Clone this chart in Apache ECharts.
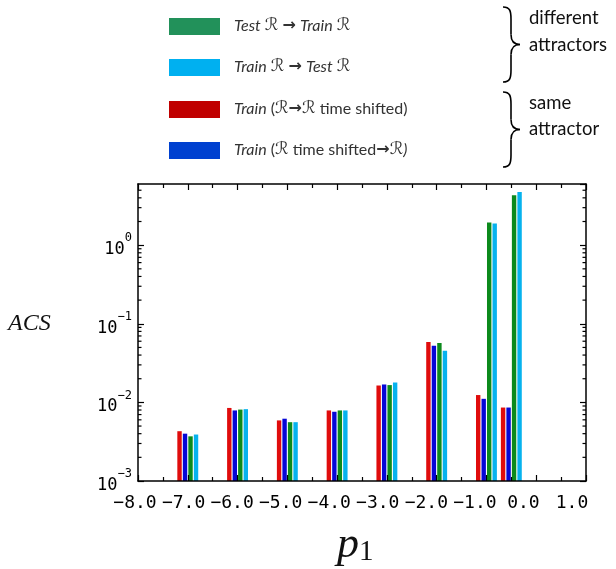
<!DOCTYPE html>
<html>
<head>
<meta charset="utf-8">
<script src="https://cdn.jsdelivr.net/npm/echarts@6/dist/echarts.min.js"></script>
<style>
html,body{margin:0;padding:0;background:#fff;}
#chart{width:616px;height:569px;}
</style>
</head>
<body>
<div id="chart"></div>
<script>
// ---- data ----
const xPositions = [-7, -6, -5, -4, -3, -2, -1, -0.5];
const trainShiftA = [0.0043, 0.0085, 0.0059, 0.0079, 0.0164, 0.0586, 0.0124, 0.0086]; // red
const trainShiftB = [0.0040, 0.0079, 0.0062, 0.0076, 0.0169, 0.0526, 0.0111, 0.0086]; // blue
const testToTrain = [0.0037, 0.0081, 0.0056, 0.0079, 0.0166, 0.0569, 1.94, 4.3];     // green
const trainToTest = [0.0039, 0.0082, 0.0056, 0.0079, 0.0179, 0.0455, 1.88, 4.73];    // cyan
const xMin = -8, xMax = 1;
const yMin = 0.001, yMax = 6;
const yMinorTicks = [2e-3,3e-3,4e-3,5e-3,6e-3,7e-3,8e-3,9e-3,
                     2e-2,3e-2,4e-2,5e-2,6e-2,7e-2,8e-2,9e-2,
                     2e-1,3e-1,4e-1,5e-1,6e-1,7e-1,8e-1,9e-1,
                     2,3,4,5];
const legendLabels = [
  '{i|Test} {r|ℛ} {a|→} {i|Train} {r|ℛ}',
  '{i|Train} {r|ℛ} {a|→} {i|Test} {r|ℛ}',
  '{i|Train} ({r|ℛ}{a|→}{r|ℛ} time shifted)',
  '{i|Train} ({r|ℛ} time shifted{a|→}{r|ℛ}{i|)}'
];
const legendColors = ['#22915a', '#00b0f0', '#c00000', '#0041d0'];

// ---- chart ----
const chart = echarts.init(document.getElementById('chart'), null, {renderer: 'canvas'});
const barW = 4.4;
function barSeries(name, vals, color, offset) {
  return {
    type: 'custom', name: name, xAxisIndex: 0, yAxisIndex: 0, z: 1,
    data: xPositions.map((x, i) => [x, vals[i]]),
    encode: {x: 0, y: 1},
    renderItem: function (params, api) {
      const top = api.coord([api.value(0), api.value(1)]);
      const base = api.coord([api.value(0), yMin]);
      return {
        type: 'rect',
        shape: {x: top[0] + offset - barW / 2, y: top[1], width: barW, height: base[1] - top[1]},
        style: {fill: color}
      };
    }
  };
}
const tickSeries = {
  type: 'custom', xAxisIndex: 0, yAxisIndex: 0, z: 5, silent: true,
  data: yMinorTicks.map(v => [xMin, v]),
  encode: {x: 0, y: 1},
  renderItem: function (params, api) {
    const cs = params.coordSys;
    const y = api.coord([xMin, api.value(1)])[1];
    const st = {stroke: '#000', lineWidth: 1.2};
    return {type: 'group', children: [
      {type: 'line', shape: {x1: cs.x, y1: y, x2: cs.x + 3.5, y2: y}, style: st},
      {type: 'line', shape: {x1: cs.x + cs.width, y1: y, x2: cs.x + cs.width - 3.5, y2: y}, style: st}
    ]};
  }
};
const fmtX = v => (v < 0 ? '\u2212' : '') + Math.abs(v).toFixed(1);
const fmtY = v => { const e = Math.round(Math.log10(v)); return '{b|10}{s|' + (e < 0 ? '\u2212' + (-e) : e) + '}'; };
const axLine = {show: true, onZero: false, lineStyle: {color: '#000', width: 1.5}};
const tick = {show: true, inside: true, length: 6, lineStyle: {color: '#000', width: 1.2}};

const option = {
  animation: false,
  backgroundColor: '#fff',
  grid: [
    {left: 138, right: 30, top: 184, bottom: 88, show: false},
    {left: 135, right: 44, top: 184, bottom: 88, show: false}
  ],
  xAxis: [
    {type: 'value', gridIndex: 0, min: xMin, max: xMax, interval: 1, position: 'bottom', z: 10,
     axisLine: axLine, axisTick: tick,
     minorTick: {show: true, splitNumber: 2, length: 4, lineStyle: {color: '#000', width: 1.2}},
     axisLabel: {show: false}, splitLine: {show: false}},
    {type: 'value', gridIndex: 0, min: xMin, max: xMax, interval: 1, position: 'top', z: 10,
     axisLine: axLine, axisTick: tick,
     minorTick: {show: true, splitNumber: 2, length: 4, lineStyle: {color: '#000', width: 1.2}},
     axisLabel: {show: false}, splitLine: {show: false}},
    {type: 'value', gridIndex: 1, min: xMin, max: xMax, interval: 1, position: 'bottom',
     axisLine: {show: false, onZero: false}, axisTick: {show: false}, splitLine: {show: false},
     axisLabel: {show: true, formatter: fmtX, margin: 13, color: '#000', fontSize: 18, fontFamily: 'DejaVu Sans Mono'}}
  ],
  yAxis: [
    {type: 'log', logBase: 10, gridIndex: 0, min: yMin, max: yMax, position: 'left', z: 10,
     axisLine: axLine, axisTick: tick, splitLine: {show: false},
     axisLabel: {show: true, showMaxLabel: false, formatter: fmtY, margin: 6, color: '#000',
       rich: {
         b: {fontSize: 17, fontFamily: 'DejaVu Sans Mono', color: '#000', lineHeight: 26, verticalAlign: 'bottom'},
         s: {fontSize: 12, fontFamily: 'DejaVu Sans Mono', color: '#000', lineHeight: 26, verticalAlign: 'top'}
       }}},
    {type: 'log', logBase: 10, gridIndex: 0, min: yMin, max: yMax, position: 'right', z: 10,
     axisLine: axLine, axisTick: tick, splitLine: {show: false}, axisLabel: {show: false}},
    {type: 'value', gridIndex: 1, show: false}
  ],
  series: [
    barSeries('Train (ℛ→ℛ time shifted)', trainShiftA, '#e00c0c', -8.25),
    barSeries('Train (ℛ time shifted→ℛ)', trainShiftB, '#0606d6', -2.75),
    barSeries('Test ℛ → Train ℛ', testToTrain, '#0c8a1c', 2.75),
    barSeries('Train ℛ → Test ℛ', trainToTest, '#06b2ee', 8.25),
    tickSeries
  ],
  graphic: []
};

// legend (drawn as graphic, stacked vertically)
const legendTops = [18, 59, 101, 142];
legendLabels.forEach((t, i) => {
  option.graphic.push({type: 'rect', left: 169, top: legendTops[i], shape: {width: 51, height: 17}, style: {fill: legendColors[i]}});
  option.graphic.push({type: 'text', left: 234, top: legendTops[i] - 1, style: {
    text: t, fill: '#333', font: '16px Lato',
    rich: {
      i: {fontStyle: 'italic', fontSize: 16, fontFamily: 'Lato', fill: '#333'},
      r: {fontSize: 17, fontFamily: 'DejaVu Sans', fill: '#333'},
      a: {fontWeight: 'bold', fontSize: 16, fontFamily: 'DejaVu Sans', fill: '#333'}
    }}});
});
// braces built from bezier curves and lines
function brace(x0, y0, y1) {
  const m = (y0 + y1) / 2, xm = x0 + 8, xt = x0 + 17;
  const st = {stroke: '#000', lineWidth: 1.6, fill: null};
  return {type: 'group', children: [
    {type: 'bezierCurve', shape: {x1: x0, y1: y0, cpx1: x0 + 7, cpy1: y0, cpx2: xm, cpy2: y0 + 4, x2: xm, y2: y0 + 12}, style: st},
    {type: 'line', shape: {x1: xm, y1: y0 + 12, x2: xm, y2: m - 10}, style: st},
    {type: 'bezierCurve', shape: {x1: xm, y1: m - 10, cpx1: xm, cpy1: m - 3, cpx2: xm + 3, cpy2: m, x2: xt, y2: m}, style: st},
    {type: 'bezierCurve', shape: {x1: xt, y1: m, cpx1: xm + 3, cpy1: m, cpx2: xm, cpy2: m + 3, x2: xm, y2: m + 10}, style: st},
    {type: 'line', shape: {x1: xm, y1: m + 10, x2: xm, y2: y1 - 12}, style: st},
    {type: 'bezierCurve', shape: {x1: xm, y1: y1 - 12, cpx1: xm, cpy1: y1 - 4, cpx2: x0 + 7, cpy2: y1, x2: x0, y2: y1}, style: st}
  ]};
}
option.graphic.push(brace(503, 7, 82));
option.graphic.push(brace(503, 92, 167));
const sideTexts = [['different', 9], ['attractors', 36], ['same', 94], ['attractor', 120]];
sideTexts.forEach(s => option.graphic.push({type: 'text', left: 529, top: s[1], style: {text: s[0], fill: '#111', font: '18.5px Lato'}}));
// axis titles
option.graphic.push({type: 'text', left: 8, top: 312, style: {text: 'ACS', fill: '#111', font: 'italic 24px "Liberation Serif"'}});
option.graphic.push({type: 'text', left: 337, top: 523, style: {text: '{p|p}{s|1}', rich: {
  p: {fontStyle: 'italic', fontSize: 44, fontFamily: 'Liberation Serif', fill: '#111', verticalAlign: 'bottom', lineHeight: 46},
  s: {fontSize: 29, fontFamily: 'Liberation Serif', fill: '#111', verticalAlign: 'bottom', lineHeight: 36}
}}});

chart.setOption(option);
</script>
</body>
</html>
